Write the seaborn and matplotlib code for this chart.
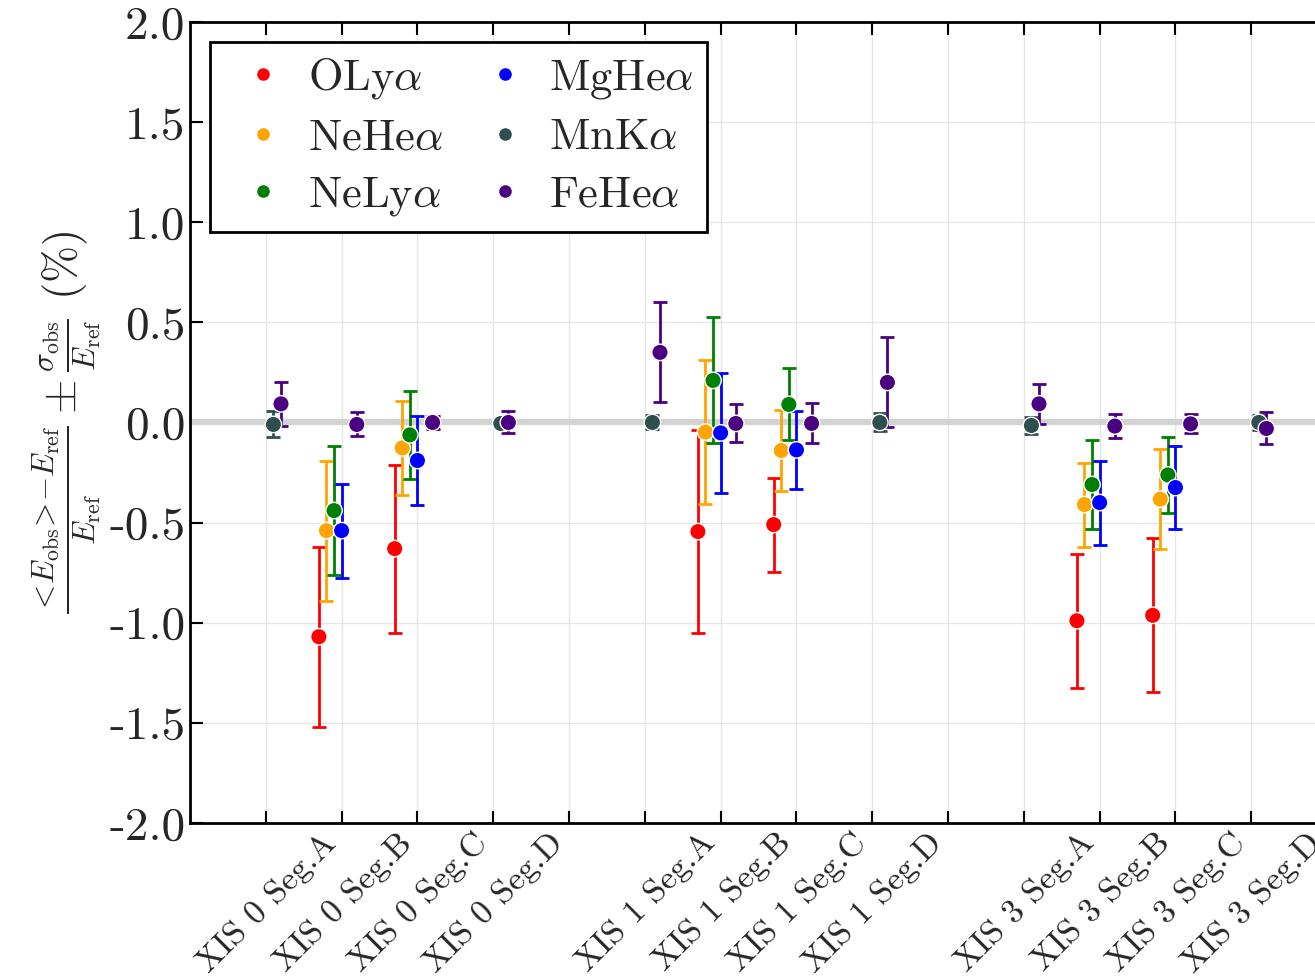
import numpy as np
import pandas as pd
import seaborn as sns
import matplotlib
import matplotlib.pyplot as plt

# === data ===
tick_labels = ['', 'XIS 0 Seg.A', 'XIS 0 Seg.B', 'XIS 0 Seg.C', 'XIS 0 Seg.D', '',
               'XIS 1 Seg.A', 'XIS 1 Seg.B', 'XIS 1 Seg.C', 'XIS 1 Seg.D', '',
               'XIS 3 Seg.A', 'XIS 3 Seg.B', 'XIS 3 Seg.C', 'XIS 3 Seg.D', '']

lines = ['OLy', 'NeHe', 'NeLy', 'MgHe', 'MnK', 'FeHe']
line_labels = [r'OLy$\alpha$', r'NeHe$\alpha$', r'NeLy$\alpha$',
               r'MgHe$\alpha$', r'MnK$\alpha$', r'FeHe$\alpha$']
colors = ['red', 'orange', 'green', 'blue', 'darkslategray', 'indigo']
offsets = [-0.3, -0.2, -0.1, 0.0, 0.1, 0.2]

# position index on the x axis, value, error (%)
oly_pos = [1, 2, 6, 7, 11, 12]
oly_val = [-1.07, -0.63, -0.545, -0.51, -0.99, -0.963]
oly_err = [0.45, 0.42, 0.505, 0.235, 0.335, 0.385]

nehe_pos = [1, 2, 6, 7, 11, 12]
nehe_val = [-0.54, -0.127, -0.048, -0.14, -0.41, -0.383]
nehe_err = [0.35, 0.235, 0.36, 0.20, 0.21, 0.25]

nely_pos = [1, 2, 6, 7, 11, 12]
nely_val = [-0.44, -0.062, 0.21, 0.09, -0.31, -0.262]
nely_err = [0.32, 0.22, 0.315, 0.18, 0.22, 0.19]

mghe_pos = [1, 2, 6, 7, 11, 12]
mghe_val = [-0.54, -0.19, -0.052, -0.137, -0.40, -0.325]
mghe_err = [0.235, 0.22, 0.30, 0.195, 0.21, 0.205]

mnk_pos = [0, 3, 5, 8, 10, 13]
mnk_val = [-0.01, -0.005, 0.0, 0.0, -0.015, 0.0]
mnk_err = [0.065, 0.02, 0.035, 0.045, 0.043, 0.037]

fehe_pos = [0, 1, 2, 3, 5, 6, 7, 8, 10, 11, 12, 13]
fehe_val = [0.093, -0.01, 0.0, 0.0, 0.35, -0.005, -0.005, 0.2, 0.093, -0.018, -0.007, -0.03]
fehe_err = [0.11, 0.06, 0.033, 0.055, 0.25, 0.095, 0.10, 0.225, 0.10, 0.06, 0.048, 0.08]

all_pos = [oly_pos, nehe_pos, nely_pos, mghe_pos, mnk_pos, fehe_pos]
all_val = [oly_val, nehe_val, nely_val, mghe_val, mnk_val, fehe_val]
all_err = [oly_err, nehe_err, nely_err, mghe_err, mnk_err, fehe_err]

# long format table
rows = []
for name, lab, off, pos, val, err in zip(lines, line_labels, offsets, all_pos, all_val, all_err):
    for p, v, e in zip(pos, val, err):
        rows.append({'line': lab, 'x': p + off, 'y': v, 'err': e})
df = pd.DataFrame(rows)

# === style ===
sns.set_theme(style='whitegrid')
plt.rcParams['font.family'] = ['cmr10', 'DejaVu Serif']
plt.rcParams['mathtext.fontset'] = 'cm'
plt.rcParams['axes.unicode_minus'] = False
plt.rcParams['axes.formatter.use_mathtext'] = False

fig = plt.figure(figsize=(13.15, 9.76), dpi=100)
ax = fig.add_axes([0.1445, 0.1568, 0.9223, 0.8207])

ax.axhline(0, color='lightgray', lw=4.5, zorder=1)

for lab, col in zip(line_labels, colors):
    sub = df[df['line'] == lab]
    ax.errorbar(sub['x'], sub['y'], yerr=sub['err'], fmt='none', ecolor=col,
                elinewidth=2, capsize=5, capthick=2, zorder=2)

sns.scatterplot(data=df, x='x', y='y', hue='line', hue_order=line_labels,
                palette=colors, s=140, edgecolor='white', linewidth=1,
                zorder=3, ax=ax, legend=True)

ax.set_xlim(-1, 15)
ax.set_ylim(-2, 2)
ax.set_xticks(np.arange(0, 16))
ax.set_xticklabels(tick_labels, rotation=45, ha='right', fontsize=24.5)
ax.set_yticks(np.arange(-2, 2.01, 0.5))
ax.set_yticklabels([f'{v:.1f}' for v in np.arange(-2, 2.01, 0.5)], fontsize=34)
ax.set_xlabel('')
ax.set_ylabel(r'$\frac{{<}\!E_{\rm obs}\!{>}\!{-}E_{\rm ref}}{E_{\rm ref}}\pm\frac{\sigma_{\rm obs}}{E_{\rm ref}}$ (%)',
              fontsize=32, labelpad=4)

ax.grid(True, color='#e6e6e6', lw=1)
ax.tick_params(axis='both', direction='in', length=9, width=1.5, color='black',
               top=True, bottom=True, left=True, right=True)
for sp in ax.spines.values():
    sp.set_color('black')
    sp.set_linewidth(2)

handles, labels = ax.get_legend_handles_labels()
leg = ax.legend(handles, labels, loc='upper left', ncol=2, fontsize=32,
                frameon=True, fancybox=False, framealpha=1, edgecolor='black',
                handlelength=1.8, handletextpad=0.1, columnspacing=0.5,
                borderaxespad=0.45, borderpad=0.3, labelspacing=0.38,
                markerscale=0.85)
leg.get_frame().set_linewidth(2)

fig.savefig('out.png', dpi=100)
